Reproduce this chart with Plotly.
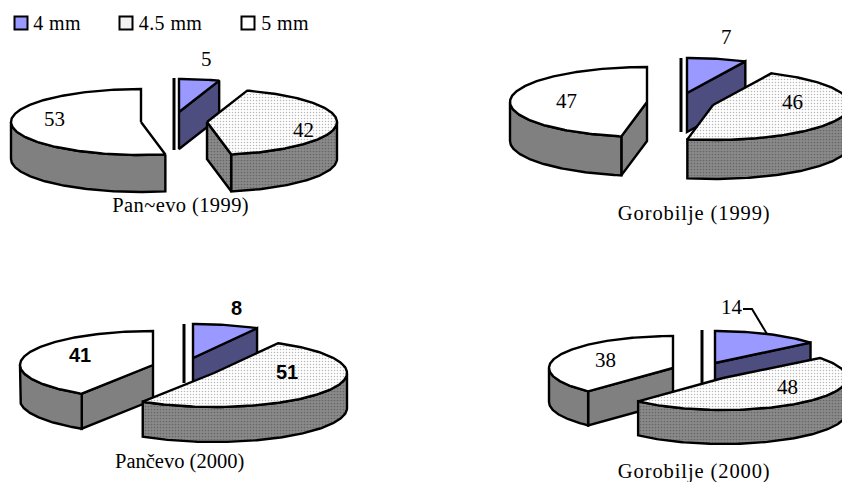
import numpy as np
import plotly.graph_objects as go

# ---- data ----
SERIES = ["4 mm", "4.5 mm", "5 mm"]
PANCEVO_1999 = [5, 42, 53]
GOROBILJE_1999 = [7, 46, 47]
PANCEVO_2000 = [8, 51, 41]
GOROBILJE_2000 = [14, 48, 38]
TITLES = ["Pan~evo (1999)", "Gorobilje (1999)", "Pančevo (2000)", "Gorobilje (2000)"]

# ---- layout of the exploded 3-D pies (page pixels) ----
PIES = [
    dict(values=PANCEVO_1999, rx=130, ry=33, depth=37,
         apex=[(179, 112), (207, 122), (141, 122)],
         label_xy=[(206, 59), (303, 130), (54, 119)], bold=False,
         title_xy=(180, 205), bar=(174, 78, 150)),
    dict(values=GOROBILJE_1999, rx=137, ry=35, depth=39,
         apex=[(687, 93), (713, 105), (647, 102)],
         label_xy=[(726, 37), (792, 102), (566, 101)], bold=False,
         title_xy=(694, 213), bar=(681, 58, 132)),
    dict(values=PANCEVO_2000, rx=133, ry=34, depth=35,
         apex=[(193, 358), (214, 373), (153, 365)],
         label_xy=[(236, 308), (287, 372), (80, 355)], bold=True,
         title_xy=(179, 461), bar=(184, 324, 383)),
    dict(values=GOROBILJE_2000, rx=124, ry=32, depth=34,
         apex=[(715, 363), (723, 378), (673, 368)],
         label_xy=[(732, 307), (787, 387), (605, 360)], bold=False,
         title_xy=(694, 471), bar=(702, 330, 383)),
]
LEADER = ([743, 752, 767], [309, 309, 334])
LEGEND_X = [21, 126, 248]
LEGEND_TEXT_X = [32, 138, 260]
LEGEND_Y = 23

TOP = ["#9999ff", "#ffffff", "#ffffff"]
WALL = ["#4d4d80", "#808080", "#808080"]
PAT_TOP = dict(shape=".", size=3, solidity=0.2, fgcolor="#b8b8b8", bgcolor="#ffffff", fillmode="replace")
PAT_WALL = dict(shape=".", size=3, solidity=0.25, fgcolor="#666666", bgcolor="#8a8a8a", fillmode="replace")
LW = 2.4
SERIF = "Liberation Serif"
SANS = "Liberation Sans"

fig = go.Figure()


def poly(xs, ys, color, pattern=None, name=None):
    t = dict(x=list(xs) + [xs[0]], y=list(ys) + [ys[0]], mode="lines", fill="toself",
             fillcolor=color, line=dict(color="black", width=LW), hoverinfo="skip",
             showlegend=False)
    if name:
        t["name"] = name
    if pattern:
        t["fillpattern"] = pattern
    fig.add_trace(go.Scatter(**t))


def arc(ax, ay, rx, ry, a0, a1):
    a = np.radians(np.linspace(a0, a1, max(int(abs(a1 - a0)), 2) + 1))
    return ax + rx * np.sin(a), ay - ry * np.cos(a)


for pie in PIES:
    vals = pie["values"]
    edges = np.concatenate([[0], np.cumsum(vals)]) / sum(vals) * 360
    rx, ry, d = pie["rx"], pie["ry"], pie["depth"]
    x, y0, y1 = pie["bar"]
    fig.add_trace(go.Scatter(x=[x, x], y=[y0, y1], mode="lines", showlegend=False, hoverinfo="skip",
                             line=dict(color="black", width=3)))
    for i in (0, 2, 1):  # painter's order: back slice, left slice, front slice
        a0, a1 = edges[i], edges[i + 1]
        ax, ay = pie["apex"][i]
        pat_w = PAT_WALL if i == 1 else None
        pat_t = PAT_TOP if i == 1 else None
        # flat cut faces turned to the viewer
        for ang, vis in ((a0, np.sin(np.radians(a0)) < -1e-6), (a1, np.sin(np.radians(a1)) > 1e-6)):
            if vis:
                px, py = arc(ax, ay, rx, ry, ang, ang)
                px, py = px[0], py[0]
                poly([ax, px, px, ax], [ay, py, py + d, ay + d], WALL[i], pat_w)
        # outer rim, front half only
        w0, w1 = max(a0, 90), min(a1, 270)
        if w1 > w0:
            ax_, ay_ = arc(ax, ay, rx, ry, w0, w1)
            poly(list(ax_) + list(ax_[::-1]), list(ay_) + list((ay_ + d)[::-1]), WALL[i], pat_w)
        # top face
        tx, ty = arc(ax, ay, rx, ry, a0, a1)
        poly([ax] + list(tx), [ay] + list(ty), TOP[i], pat_t)

fig.add_trace(go.Scatter(x=LEADER[0], y=LEADER[1], mode="lines", showlegend=False, hoverinfo="skip",
                         line=dict(color="black", width=2)))

# legend swatches
for i, name in enumerate(SERIES):
    fig.add_trace(go.Scatter(x=[LEGEND_X[i]], y=[LEGEND_Y], mode="markers", name=name, showlegend=False,
                             hoverinfo="skip",
                             marker=dict(symbol="square", size=13,
                                         color=["#9999ff", "#f2f2f2", "#ffffff"][i],
                                         line=dict(color="black", width=2))))
    fig.add_annotation(x=LEGEND_TEXT_X[i], y=LEGEND_Y, text=name, showarrow=False, xanchor="left",
                       font=dict(family=SERIF, size=20, color="black"))

# slice labels and titles
for pie, title in zip(PIES, TITLES):
    for v, (lx, ly) in zip(pie["values"], pie["label_xy"]):
        font = dict(family=SANS, size=20, color="black", weight="bold") if pie["bold"] else \
            dict(family=SERIF, size=21, color="black")
        fig.add_annotation(x=lx, y=ly, text=str(v), showarrow=False, font=font)
    fig.add_annotation(x=pie["title_xy"][0], y=pie["title_xy"][1], text=title, showarrow=False,
                       font=dict(family=SERIF, size=20.5, color="black"))

# the reference text is slightly letter-spaced; plotly has no font option for it
SPACING_JS = """
document.body.style.margin='0';
var sp={'Pan~evo (1999)':'0.4px','Gorobilje (1999)':'0.9px','Gorobilje (2000)':'0.9px','4 mm':'0.4px','4.5 mm':'0.4px','5 mm':'0.4px'};
document.querySelectorAll('.annotation-text').forEach(function(t){
  if(sp[t.textContent]){t.style.letterSpacing=sp[t.textContent];}
});
"""

fig.update_layout(width=842, height=482, autosize=False, margin=dict(l=0, r=0, t=0, b=0),
                  paper_bgcolor="white", plot_bgcolor="white", showlegend=False,
                  xaxis=dict(range=[0, 842], visible=False, fixedrange=True),
                  yaxis=dict(range=[482, 0], visible=False, fixedrange=True))
fig.write_html("out.html", post_script=SPACING_JS, config=dict(displayModeBar=False))
